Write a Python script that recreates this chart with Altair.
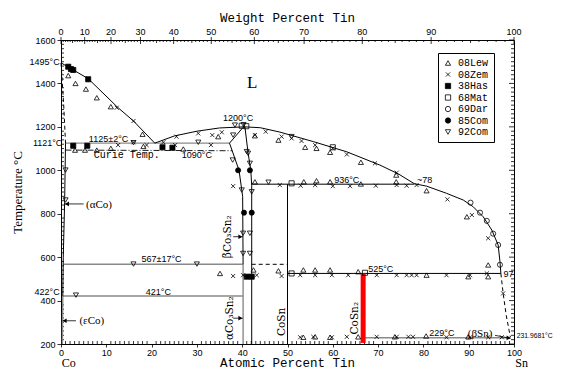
import altair as alt
import pandas as pd

# ---------------- data: (atomic % Sn, temperature °C) ----------------
series_names = ["08Lew", "08Zem", "38Has", "68Mat", "69Dar", "85Com", "92Com"]

lew_pts = [(1.6, 1436), (3.2, 1400), (5.5, 1374), (7.9, 1334), (11.0, 1293), (18.0, 1166),
           (3.1, 1093), (5.3, 1093), (7.9, 1093), (11.0, 1101), (18.2, 1110), (27.0, 1098),
           (34.7, 1155), (42.8, 1159), (48.0, 1139), (53.9, 1106), (56.4, 1101), (59.4, 1083),
           (66.2, 1037), (74.0, 978),
           (42.8, 947), (53.6, 947), (56.4, 952), (59.4, 947), (66.2, 937), (74.0, 947),
           (80.7, 906), (89.6, 786),
           (35.1, 525), (42.5, 541), (48.0, 537), (53.5, 541), (56.1, 541), (59.4, 541),
           (65.6, 533), (80.7, 517), (89.9, 510), (94.3, 564), (94.3, 510),
           (53.5, 231), (56.1, 233), (59.4, 231), (65.6, 233), (73.7, 233), (80.6, 237), (89.9, 233)]

zem_pts = [(6.0, 1423), (12.3, 1288), (16.0, 1227),
           (12.6, 1116), (16.0, 1129), (18.9, 1116), (22.6, 1129), (25.2, 1116), (33.1, 1116),
           (25.5, 1155), (30.3, 1170), (33.4, 1162), (35.5, 1175), (42.8, 1162), (45.2, 1178),
           (48.7, 1155), (50.9, 1147), (53.1, 1135), (56.1, 1116), (60.0, 1101), (63.1, 1073),
           (69.3, 1032), (74.1, 989), (85.3, 866), (90.7, 794), (94.3, 687),
           (38.0, 927), (48.3, 932), (52.9, 929), (56.1, 932), (60.0, 927), (63.8, 927),
           (69.5, 929), (74.1, 932), (76.3, 929), (78.5, 932),
           (38.0, 513), (40.2, 517), (43.2, 517), (48.7, 513), (52.8, 517), (56.1, 517),
           (59.8, 517), (63.4, 517), (69.7, 517), (74.1, 517), (76.3, 517), (77.4, 517),
           (78.5, 517), (85.1, 517), (90.3, 517), (94.0, 525), (97.6, 433),
           (52.8, 231), (55.7, 233), (59.8, 231), (63.1, 233), (69.7, 233), (74.1, 233),
           (76.7, 233), (77.7, 233), (85.1, 231), (90.3, 231), (94.3, 231), (97.3, 231)]

has_pts = [(1.6, 1477), (2.2, 1466), (2.7, 1462), (6.0, 1419), (2.7, 1113), (5.8, 1113),
           (22.4, 1106), (24.6, 1104), (41.0, 510), (42.1, 510)]

mat_pts = [(39.9, 1205), (40.9, 1203), (60.0, 1106), (50.9, 940), (50.9, 525), (67.1, 528)]

dar_pts = [(90.4, 851), (92.5, 805), (94.0, 767), (95.4, 708), (96.5, 656), (96.9, 565)]

com85_pts = [(39.1, 1000), (41.7, 1000), (40.4, 805), (42.1, 805)]

com92_pts = [(1.0, 1001), (1.0, 863), (16.0, 1127), (30.3, 1129), (38.4, 1208), (40.3, 1210),
             (38.0, 1162), (41.0, 1086), (37.9, 1047), (41.3, 1078), (41.7, 1032),
             (39.9, 909), (42.1, 901), (40.2, 710), (41.7, 710), (40.2, 617), (41.7, 617),
             (45.8, 945), (16.0, 568), (30.0, 568), (3.3, 425), (50.9, 1155)]

# phase boundaries
solid_black_lines = {
    "liq_co": [(0, 1495), (6, 1422), (12.5, 1290), (16, 1227), (20.7, 1125)],
    "liq_dome": [(20.7, 1125), (25, 1158), (30, 1180), (35, 1195), (40.5, 1200), (44, 1196),
                 (48.3, 1176), (55.7, 1132), (63.1, 1085), (70.4, 1024), (74.5, 983), (78, 938),
                 (80.7, 927), (85.1, 894), (88.8, 863), (91, 832), (93.2, 786), (95.1, 725),
                 (96.5, 656), (96.9, 580), (97.1, 525)],
    "beta_left": [(40.3, 1200), (37.2, 1125), (39.3, 1000), (40.1, 880), (40.2, 567)],
    "beta_right": [(40.6, 1200), (41.3, 1080), (41.9, 1000), (42.1, 930), (42.1, 200)],
    "aco_solvus": [(1.0, 1125), (0.8, 850), (0.5, 600), (0.4, 422)],
    "h936": [(42.1, 936), (78, 936)],
    "cosn": [(50, 936), (50, 200)],
    "h525": [(50, 525), (97.1, 525)],
}
gray_lines = {
    "h1125": [(1.0, 1125), (37.2, 1125)],
    "h567": [(0.5, 567), (40.2, 567)],
    "h421": [(0.4, 421), (40.2, 421)],
    "alpha_left": [(40.2, 567), (40.2, 200)],
    "eco": [(0.4, 422), (0.3, 200)],
    "h229": [(66.7, 229), (99.2, 229)],
}
dashed_lines = {
    "co_solidus": [(0, 1495), (0.6, 1300), (1.0, 1125)],
    "h567b": [(42.1, 567), (50, 567)],
    "sn_liq": [(97.1, 525), (97.6, 434), (98.3, 330), (99.2, 232)],
}
curie_line = {"curie": [(1.0, 1093), (37.8, 1090)]}
cosn2_line = {"cosn2": [(66.7, 525), (66.7, 205)]}
pointer_lines = {
    "p_aco": [(5.0, 845), (0.9, 845)],
    "p_eco": [(3.3, 307), (0.4, 307)],
    "p_acs": [(38.0, 319), (40.1, 319)],
    "p_bcs": [(38.0, 694), (40.1, 694)],
    "p_bsn": [(95.8, 240), (99.2, 226)],
}
arrow_left = [(1.3, 845), (0.8, 307)]
arrow_right = [(39.6, 319), (39.6, 694), (98.8, 228)]

# texts
sans_labels = [  # x, T, text, align
    (39.1, 1239, "1200°C", "center"), (10.5, 1145, "1125±2°C", "center"),
    (30.0, 1070, "1090°C", "center"), (60.3, 955, "936°C", "left"),
    (78.6, 955, "~78", "left"), (22.2, 590, "567±17°C", "center"),
    (21.5, 441, "421°C", "center"), (67.8, 544, "525°C", "left"),
    (97.7, 524, "97", "left"), (81.3, 249, "229°C", "left"),
    (-0.3, 1499, "1495°C", "right"), (0.3, 1126, "1121°C", "right"),
    (-0.3, 438, "422°C", "right"),
]
corner_label = [(100.6, 236, "231.9681°C")]
mono_labels = [(14.5, 1070, "Curie Temp.")]
serif_labels = [(8.4, 842, "(αCo)", 11), (6.8, 306, "(εCo)", 11), (92.5, 246, "(βSn)", 11),
                (42.2, 1400, "L", 17)]
end_labels = [(1.7, 80.5, "Co"), (101.7, 80.5, "Sn")]
rot_labels = [(36.9, 694, "βCo₃Sn₂"), (37.3, 319, "αCo₃Sn₂"), (48.7, 302, "CoSn"), (64.9, 319, "CoSn₂")]
titles = [(50, 1700, "Weight Percent Tin", "middle"), (50, 80.5, "Atomic Percent Tin", "bottom")]

temp_ticks = [200, 400, 600, 800, 1000, 1200, 1400, 1600]
at_ticks = [0, 10, 20, 30, 40, 50, 60, 70, 80, 90, 100]
wt_ticks = [0, 10, 20, 30, 40, 50, 60, 70, 80, 90, 100]

# ---------------- helpers ----------------
PX_T = 304 / 1400.0   # px per °C
PX_X = 453 / 100.0    # px per at%


def wt2at(w):
    a = w / 118.71
    b = (100 - w) / 58.933
    return 100 * a / (a + b)


def seg_df(lines):
    rows = []
    for name, pts in lines.items():
        for i, (x, t) in enumerate(pts):
            rows.append({"line": name, "o": i, "x": x, "T": t})
    return pd.DataFrame(rows)


def txt_df(rows):
    return pd.DataFrame([{"x": r[0], "T": r[1], "text": r[2]} for r in rows])


xs = alt.Scale(domain=[0, 100], nice=False, zero=False)
ys = alt.Scale(domain=[200, 1600], nice=False, zero=False)
X = alt.X("x:Q", scale=xs, axis=alt.Axis(values=at_ticks, title="", grid=False,
                                          tickSize=3, labelPadding=1, labelFlush=False,
                                          format="d"))
Y = alt.Y("T:Q", scale=ys, axis=alt.Axis(values=temp_ticks, title="Temperature °C", grid=False,
                                          tickSize=4, labelPadding=2, titlePadding=10,
                                          labelFlush=False, format="d"))


def line_layer(lines, color, width, dash=None):
    kw = dict(color=color, strokeWidth=width, clip=False)
    if dash:
        kw["strokeDash"] = dash
    return alt.Chart(seg_df(lines)).mark_line(**kw).encode(
        x=X, y=Y, detail="line:N", order="o:Q")


layers = []

# ---------------- minor ticks ----------------
tick_rows = []
for a in range(1, 100):
    if a % 10:
        tick_rows.append({"x": a, "x2": a, "T": 200, "T2": 200 + 3 / PX_T})
for t in range(220, 1600, 20):
    if t % 200:
        tick_rows.append({"x": 0, "x2": 3 / PX_X, "T": t, "T2": t})
        tick_rows.append({"x": 100, "x2": 100 - 3 / PX_X, "T": t, "T2": t})
for t in temp_ticks:
    tick_rows.append({"x": 100, "x2": 100 - 5 / PX_X, "T": t, "T2": t})
for w in range(0, 101):
    a = wt2at(w)
    if w % 10 == 0:
        tick_rows.append({"x": a, "x2": a, "T": 1600 + 3 / PX_T, "T2": 1600 - 4 / PX_T})
    else:
        tick_rows.append({"x": a, "x2": a, "T": 1600, "T2": 1600 - (3 if w % 5 == 0 else 2) / PX_T})
ticks_df = pd.DataFrame(tick_rows)
layers.append(alt.Chart(ticks_df).mark_rule(color="black", strokeWidth=0.8).encode(
    x=X, x2="x2:Q", y=Y, y2="T2:Q"))

# top axis labels
top_df = pd.DataFrame({"x": [wt2at(w) for w in wt_ticks], "T": [1638] * len(wt_ticks),
                       "text": [str(w) for w in wt_ticks]})
layers.append(alt.Chart(top_df).mark_text(font="Liberation Sans", fontSize=9, color="black",
                                          baseline="middle").encode(x=X, y=Y, text="text:N"))
for tx, tt, tl, tb in titles:
    layers.append(alt.Chart(txt_df([(tx, tt, tl)]))
                  .mark_text(font="Liberation Mono", fontSize=12.5, color="black", baseline=tb)
                  .encode(x=X, y=Y, text="text:N"))

# ---------------- boundaries ----------------
layers.append(line_layer(gray_lines, "#8a8a8a", 1.4))
layers.append(line_layer(solid_black_lines, "black", 1.0))
layers.append(line_layer(dashed_lines, "black", 1.0, [4, 3]))
layers.append(line_layer(curie_line, "black", 0.9, [6, 2, 1, 2]))
layers.append(line_layer(pointer_lines, "black", 0.8))
layers.append(line_layer(cosn2_line, "#ff0000", 5))

al_df = pd.DataFrame(arrow_left, columns=["x", "T"])
ar_df = pd.DataFrame(arrow_right, columns=["x", "T"])
layers.append(alt.Chart(al_df).mark_point(shape="triangle-left", filled=True, color="black",
                                          size=22, opacity=1).encode(x=X, y=Y))
layers.append(alt.Chart(ar_df).mark_point(shape="triangle-right", filled=True, color="black",
                                          size=22, opacity=1).encode(x=X, y=Y))

# ---------------- data points ----------------
pt_rows = []
for name, pts in zip(series_names, [lew_pts, zem_pts, has_pts, mat_pts, dar_pts, com85_pts, com92_pts]):
    for x, t in pts:
        pt_rows.append({"s": name, "x": x, "T": t})
pts_df = pd.DataFrame(pt_rows)

xpath = "M-0.8,-0.8L0.8,0.8M-0.8,0.8L0.8,-0.8"
shape_range = ["triangle-up", xpath, "square", "square", "circle", "circle", "triangle-down"]
fill_range = ["transparent", "transparent", "black", "transparent", "transparent", "black", "transparent"]
stroke_range = ["black"] * 7
leg = alt.Legend(orient="none", legendX=377, legendY=13, strokeColor="black", fillColor="white",
                 padding=5, labelFont="Liberation Mono", labelFontSize=10, labelColor="black",
                 symbolSize=28, symbolStrokeWidth=0.8,
                 rowPadding=1.5, labelOffset=5, cornerRadius=0)
layers.append(alt.Chart(pts_df).mark_point(filled=True, strokeWidth=0.8,
                                           size=26, opacity=1).encode(
    x=X, y=Y,
    shape=alt.Shape("s:N", scale=alt.Scale(domain=series_names, range=shape_range), legend=leg,
                    title=None),
    fill=alt.Fill("s:N", scale=alt.Scale(domain=series_names, range=fill_range), legend=leg,
                  title=None),
    stroke=alt.Stroke("s:N", scale=alt.Scale(domain=series_names, range=stroke_range), legend=leg,
                      title=None),
))

# ---------------- annotations ----------------
for align in ["left", "center", "right"]:
    rows = [r for r in sans_labels if r[3] == align]
    layers.append(alt.Chart(txt_df(rows)).mark_text(font="Liberation Sans", fontSize=9, color="black",
                                                    align=align, baseline="middle")
                  .encode(x=X, y=Y, text="text:N"))

layers.append(alt.Chart(txt_df(corner_label)).mark_text(font="Liberation Sans", fontSize=6.8,
                                                        color="black", align="left",
                                                        baseline="middle")
              .encode(x=X, y=Y, text="text:N"))

layers.append(alt.Chart(txt_df(mono_labels)).mark_text(font="Liberation Mono", fontSize=10,
                                                       color="black", baseline="middle")
              .encode(x=X, y=Y, text="text:N"))

for size in sorted(set(r[3] for r in serif_labels)):
    rows = [r for r in serif_labels if r[3] == size]
    layers.append(alt.Chart(txt_df(rows)).mark_text(font="Liberation Serif, DejaVu Serif",
                                                    fontSize=size, color="black",
                                                    baseline="middle")
                  .encode(x=X, y=Y, text="text:N"))

layers.append(alt.Chart(txt_df(end_labels)).mark_text(font="Liberation Serif", fontSize=12,
                                                      color="black", baseline="bottom")
              .encode(x=X, y=Y, text="text:N"))

layers.append(alt.Chart(txt_df(rot_labels)).mark_text(font="DejaVu Serif", fontSize=10.5,
                                                      color="black", angle=270,
                                                      baseline="middle")
              .encode(x=X, y=Y, text="text:N"))

chart = alt.layer(*layers).properties(
    width=453, height=304,
    padding={"left": 53, "top": 32, "right": 42, "bottom": 26},
    autosize=alt.AutoSizeParams(type="none"),
).configure_view(stroke="black", strokeWidth=1).configure_axis(
    labelFont="Liberation Sans", labelFontSize=9, labelColor="black",
    domainColor="black", tickColor="black", domainWidth=1, tickWidth=0.8,
    titleColor="black", titleFontWeight="normal",
).configure_axisY(titleFont="Liberation Serif", titleFontSize=13)

chart.save("out.html", embed_options={"renderer": "svg", "actions": False})
